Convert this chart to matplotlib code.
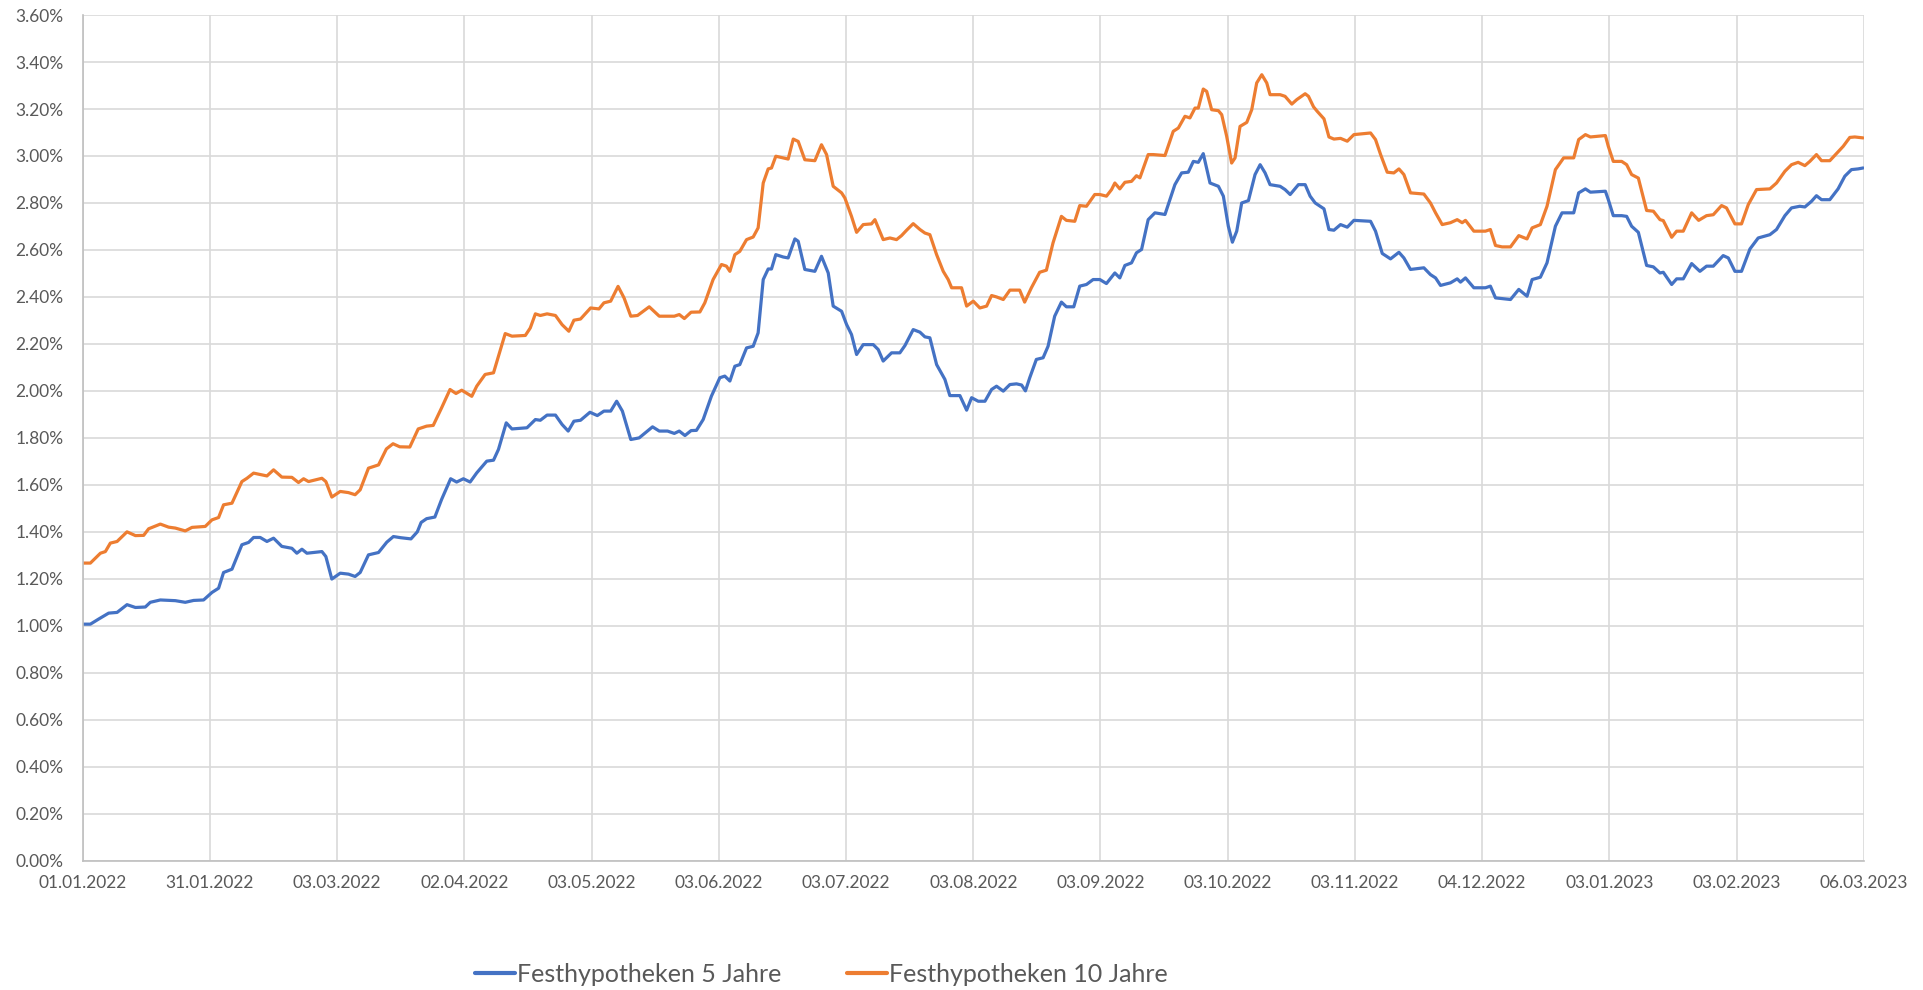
import matplotlib
matplotlib.use("Agg")
import matplotlib.pyplot as plt
from matplotlib.ticker import FixedLocator, FuncFormatter

# ---------------- data ----------------
tick_labels = ["01.01.2022", "31.01.2022", "03.03.2022", "02.04.2022", "03.05.2022",
               "03.06.2022", "03.07.2022", "03.08.2022", "03.09.2022", "03.10.2022",
               "03.11.2022", "04.12.2022", "03.01.2023", "03.02.2023", "06.03.2023"]

# position along the date axis, measured in label intervals (0 = 01.01.2022, 14 = 06.03.2023)
pos_5y = [0, 0.060, 0.126, 0.204, 0.270, 0.348, 0.414, 0.492, 0.531, 0.610, 0.728, 0.806, 0.872, 0.950,
          1.016, 1.068, 1.107, 1.173, 1.251, 1.304, 1.343, 1.395, 1.448, 1.5, 1.565, 1.644, 1.683, 1.723,
          1.762, 1.880, 1.911, 1.958, 2.024, 2.089, 2.141, 2.181, 2.246, 2.325, 2.390, 2.442, 2.50, 2.58,
          2.63, 2.66, 2.703, 2.768, 2.821, 2.892, 2.939, 2.992, 3.045, 3.097, 3.176, 3.229, 3.268, 3.329,
          3.374, 3.492, 3.558, 3.597, 3.650, 3.716, 3.768, 3.816, 3.861, 3.913, 3.987, 4.045, 4.097, 4.150,
          4.197, 4.242, 4.308, 4.374, 4.479, 4.532, 4.597, 4.650, 4.689, 4.734, 4.782, 4.824, 4.877, 4.942,
          5.008, 5.047, 5.087, 5.126, 5.165, 5.218, 5.270, 5.309, 5.349, 5.388, 5.414, 5.448, 5.506, 5.545,
          5.598, 5.624, 5.676, 5.755, 5.807, 5.860, 5.899, 5.965, 6.004, 6.043, 6.083, 6.135, 6.214, 6.253,
          6.292, 6.358, 6.423, 6.463, 6.528, 6.581, 6.620, 6.659, 6.712, 6.777, 6.816, 6.895, 6.948, 6.987,
          7.039, 7.092, 7.144, 7.183, 7.236, 7.288, 7.34, 7.38, 7.41, 7.444, 7.496, 7.549, 7.588, 7.640,
          7.693, 7.732, 7.790, 7.837, 7.890, 7.942, 7.995, 8.047, 8.113, 8.152, 8.192, 8.244, 8.283, 8.323,
          8.375, 8.428, 8.507, 8.585, 8.638, 8.690, 8.730, 8.769, 8.808, 8.861, 8.927, 8.966, 9.005, 9.037,
          9.071, 9.110, 9.163, 9.215, 9.255, 9.294, 9.333, 9.412, 9.451, 9.491, 9.556, 9.609, 9.648, 9.688,
          9.757, 9.796, 9.835, 9.887, 9.940, 9.992, 10.123, 10.162, 10.215, 10.280, 10.346, 10.385, 10.437,
          10.542, 10.594, 10.634, 10.673, 10.751, 10.804, 10.830, 10.869, 10.935, 11.026, 11.065, 11.105,
          11.223, 11.288, 11.353, 11.393, 11.458, 11.510, 11.576, 11.628, 11.720, 11.759, 11.812, 11.851,
          11.969, 11.992, 12.031, 12.097, 12.136, 12.175, 12.228, 12.293, 12.346, 12.398, 12.424, 12.490,
          12.529, 12.581, 12.647, 12.712, 12.764, 12.817, 12.895, 12.935, 12.987, 13.039, 13.105, 13.170,
          13.262, 13.314, 13.380, 13.432, 13.497, 13.537, 13.589, 13.628, 13.668, 13.733, 13.798, 13.851,
          13.903, 13.955, 13.995]
rate_5y = [1.007, 1.007, 1.029, 1.054, 1.057, 1.09, 1.078, 1.08, 1.10, 1.11, 1.107, 1.10, 1.108, 1.11,
           1.142, 1.16, 1.227, 1.241, 1.345, 1.355, 1.376, 1.376, 1.359, 1.373, 1.338, 1.33, 1.309, 1.326,
           1.309, 1.316, 1.295, 1.199, 1.224, 1.22, 1.21, 1.227, 1.302, 1.312, 1.356, 1.38, 1.375, 1.37,
           1.40, 1.44, 1.456, 1.463, 1.538, 1.626, 1.612, 1.626, 1.612, 1.651, 1.701, 1.705, 1.751, 1.864,
           1.838, 1.843, 1.878, 1.875, 1.897, 1.897, 1.857, 1.829, 1.871, 1.875, 1.909, 1.895, 1.914, 1.914,
           1.956, 1.914, 1.793, 1.80, 1.847, 1.829, 1.829, 1.819, 1.829, 1.81, 1.831, 1.832, 1.878, 1.978,
           2.056, 2.063, 2.042, 2.105, 2.112, 2.183, 2.19, 2.247, 2.474, 2.519, 2.519, 2.58, 2.57, 2.566,
           2.647, 2.637, 2.517, 2.509, 2.573, 2.502, 2.361, 2.339, 2.283, 2.24, 2.155, 2.197, 2.197, 2.176,
           2.127, 2.162, 2.162, 2.193, 2.261, 2.25, 2.23, 2.226, 2.112, 2.049, 1.98, 1.98, 1.918, 1.971,
           1.956, 1.956, 2.006, 2.02, 1.999, 2.027, 2.03, 2.025, 2.0, 2.056, 2.134, 2.141, 2.19, 2.318,
           2.378, 2.358, 2.358, 2.446, 2.453, 2.474, 2.474, 2.457, 2.502, 2.481, 2.534, 2.545, 2.588, 2.602,
           2.729, 2.758, 2.751, 2.878, 2.928, 2.931, 2.977, 2.973, 3.01, 2.885, 2.871, 2.829, 2.701, 2.633,
           2.68, 2.80, 2.81, 2.921, 2.963, 2.928, 2.878, 2.871, 2.857, 2.836, 2.878, 2.878, 2.829, 2.80,
           2.775, 2.687, 2.684, 2.708, 2.697, 2.726, 2.722, 2.68, 2.585, 2.562, 2.59, 2.566, 2.517,
           2.524, 2.495, 2.481, 2.449, 2.46, 2.477, 2.463, 2.481, 2.439, 2.439, 2.446, 2.396,
           2.389, 2.432, 2.403, 2.474, 2.484, 2.545, 2.701, 2.758, 2.758, 2.843, 2.86, 2.846,
           2.85, 2.814, 2.746, 2.746, 2.743, 2.701, 2.675, 2.534, 2.528, 2.502, 2.505, 2.453,
           2.477, 2.477, 2.542, 2.509, 2.531, 2.531, 2.576, 2.566, 2.509, 2.509, 2.604, 2.651,
           2.665, 2.687, 2.746, 2.779, 2.786, 2.783, 2.807, 2.831, 2.814, 2.814, 2.86, 2.914,
           2.942, 2.945, 2.949]

pos_10y = [0, 0.060, 0.139, 0.178, 0.217, 0.270, 0.348, 0.414, 0.479, 0.518, 0.610, 0.675, 0.728, 0.806,
           0.859, 0.963, 1.016, 1.068, 1.107, 1.173, 1.251, 1.291, 1.343, 1.448, 1.5, 1.565, 1.644, 1.696,
           1.736, 1.775, 1.880, 1.911, 1.958, 2.024, 2.089, 2.141, 2.181, 2.246, 2.325, 2.387, 2.439, 2.492,
           2.571, 2.637, 2.703, 2.755, 2.821, 2.887, 2.934, 2.979, 3.058, 3.097, 3.163, 3.229, 3.268, 3.321,
           3.374, 3.479, 3.518, 3.558, 3.597, 3.650, 3.716, 3.768, 3.821, 3.861, 3.913, 3.992, 4.058, 4.097,
           4.150, 4.208, 4.255, 4.308, 4.361, 4.453, 4.532, 4.650, 4.689, 4.729, 4.782, 4.851, 4.890, 4.955,
           5.021, 5.060, 5.087, 5.126, 5.165, 5.218, 5.270, 5.309, 5.349, 5.388, 5.414, 5.448, 5.506, 5.545,
           5.585, 5.624, 5.676, 5.755, 5.807, 5.847, 5.899, 5.965, 5.991, 6.043, 6.083, 6.135, 6.200, 6.227,
           6.292, 6.345, 6.397, 6.436, 6.476, 6.528, 6.581, 6.620, 6.659, 6.712, 6.764, 6.803, 6.830, 6.908,
           6.948, 7.0, 7.052, 7.105, 7.144, 7.183, 7.236, 7.288, 7.365, 7.404, 7.457, 7.522, 7.575, 7.627,
           7.693, 7.732, 7.798, 7.837, 7.890, 7.955, 7.995, 8.047, 8.087, 8.113, 8.152, 8.192, 8.244, 8.283,
           8.310, 8.375, 8.415, 8.507, 8.572, 8.612, 8.664, 8.703, 8.743, 8.769, 8.808, 8.835, 8.874, 8.927,
           8.953, 8.992, 9.031, 9.058, 9.097, 9.150, 9.189, 9.228, 9.268, 9.307, 9.333, 9.412, 9.451, 9.504,
           9.543, 9.609, 9.635, 9.675, 9.704, 9.757, 9.796, 9.835, 9.887, 9.940, 9.992, 10.123, 10.162,
           10.202, 10.254, 10.306, 10.346, 10.385, 10.437, 10.542, 10.594, 10.634, 10.686, 10.751, 10.804,
           10.843, 10.869, 10.935, 11.026, 11.065, 11.105, 11.157, 11.223, 11.288, 11.353, 11.393, 11.458,
           11.510, 11.576, 11.641, 11.720, 11.759, 11.812, 11.851, 11.969, 11.992, 12.031, 12.097, 12.136,
           12.175, 12.228, 12.293, 12.346, 12.398, 12.424, 12.490, 12.529, 12.581, 12.647, 12.702, 12.764,
           12.817, 12.882, 12.921, 12.987, 13.039, 13.092, 13.157, 13.262, 13.314, 13.380, 13.432, 13.484,
           13.537, 13.576, 13.628, 13.668, 13.733, 13.785, 13.838, 13.890, 13.929, 13.995]
rate_10y = [1.267, 1.267, 1.309, 1.316, 1.352, 1.359, 1.40, 1.384, 1.385, 1.413, 1.433, 1.42, 1.416, 1.404,
            1.419, 1.423, 1.451, 1.461, 1.515, 1.522, 1.614, 1.628, 1.65, 1.638, 1.664, 1.633, 1.632, 1.61,
            1.626, 1.614, 1.628, 1.614, 1.548, 1.572, 1.567, 1.558, 1.579, 1.671, 1.685, 1.753, 1.775, 1.762,
            1.761, 1.838, 1.85, 1.853, 1.928, 2.006, 1.989, 2.003, 1.977, 2.02, 2.07, 2.077, 2.148, 2.244,
            2.233, 2.236, 2.268, 2.328, 2.321, 2.328, 2.321, 2.282, 2.254, 2.301, 2.306, 2.353, 2.349, 2.375,
            2.382, 2.445, 2.396, 2.318, 2.321, 2.358, 2.318, 2.318, 2.325, 2.308, 2.335, 2.336, 2.375, 2.474,
            2.538, 2.531, 2.509, 2.58, 2.594, 2.644, 2.655, 2.694, 2.885, 2.945, 2.949, 2.999, 2.992, 2.987,
            3.072, 3.062, 2.984, 2.98, 3.048, 3.006, 2.871, 2.843, 2.821, 2.743, 2.675, 2.708, 2.711, 2.729,
            2.644, 2.651, 2.644, 2.661, 2.684, 2.712, 2.687, 2.672, 2.665, 2.58, 2.509, 2.474, 2.439, 2.439,
            2.361, 2.382, 2.353, 2.361, 2.406, 2.40, 2.389, 2.429, 2.429, 2.378, 2.439, 2.505, 2.514, 2.63,
            2.743, 2.726, 2.722, 2.789, 2.786, 2.836, 2.836, 2.829, 2.857, 2.885, 2.86, 2.888, 2.892, 2.916,
            2.907, 3.006, 3.006, 3.002, 3.105, 3.119, 3.169, 3.162, 3.204, 3.204, 3.285, 3.275, 3.197, 3.193,
            3.176, 3.084, 2.97, 2.992, 3.126, 3.143, 3.197, 3.311, 3.346, 3.311, 3.261, 3.261, 3.254, 3.221,
            3.24, 3.265, 3.254, 3.209, 3.19, 3.158, 3.081, 3.072, 3.075, 3.063, 3.091, 3.098, 3.07,
            3.006, 2.931, 2.928, 2.945, 2.921, 2.843, 2.838, 2.80, 2.758, 2.708, 2.716, 2.729,
            2.716, 2.726, 2.68, 2.68, 2.687, 2.619, 2.613, 2.613, 2.661, 2.647, 2.694, 2.708,
            2.786, 2.942, 2.992, 2.992, 3.07, 3.091, 3.081, 3.087, 3.041, 2.977, 2.977, 2.963,
            2.921, 2.906, 2.768, 2.765, 2.729, 2.725, 2.654, 2.68, 2.68, 2.758, 2.726, 2.746,
            2.75, 2.789, 2.779, 2.711, 2.711, 2.793, 2.857, 2.86, 2.885, 2.935, 2.963, 2.973,
            2.959, 2.977, 3.006, 2.98, 2.98, 3.01, 3.041, 3.079, 3.081, 3.077]

series_names = ["Festhypotheken 5 Jahre", "Festhypotheken 10 Jahre"]
y_ticks = [i * 0.2 for i in range(19)]

# ---------------- plot ----------------
BLUE = "#4472C4"
ORANGE = "#ED7D31"
GRID = "#D9D9D9"
TXT = "#595959"
FONT = "Lato"

fig = plt.figure(figsize=(19.24, 9.90), dpi=100)
ax = fig.add_axes([0.043, 0.1306, 0.9257, 0.8542])

ax.plot(pos_5y, rate_5y, color=BLUE, lw=2.3, label=series_names[0],
        solid_joinstyle="round", solid_capstyle="round")
ax.plot(pos_10y, rate_10y, color=ORANGE, lw=2.3, label=series_names[1],
        solid_joinstyle="round", solid_capstyle="round")

ax.set_xlim(0, len(tick_labels) - 1)
ax.set_ylim(0, 3.6)
ax.xaxis.set_major_locator(FixedLocator(range(len(tick_labels))))
ax.set_xticklabels(tick_labels)
ax.yaxis.set_major_locator(FixedLocator(y_ticks))
ax.yaxis.set_major_formatter(FuncFormatter(lambda v, p: f"{v:.2f}%"))

ax.grid(True, color=GRID, lw=1.2)
ax.set_axisbelow(True)
for s in ["top", "right"]:
    ax.spines[s].set_visible(False)
for s in ["left", "bottom"]:
    ax.spines[s].set_color("#BFBFBF")
    ax.spines[s].set_linewidth(1.2)

ax.tick_params(axis="both", length=0, labelcolor=TXT, labelsize=12.5)
ax.tick_params(axis="y", pad=14)
ax.tick_params(axis="x", pad=10)
for lbl in ax.get_xticklabels() + ax.get_yticklabels():
    lbl.set_fontfamily(FONT)

leg = fig.legend(loc="center", bbox_to_anchor=(0.427, 0.016), ncol=2, frameon=False,
                 prop={"family": FONT, "size": 18}, handlelength=1.6, handletextpad=0.1,
                 columnspacing=2.6, borderaxespad=0, borderpad=0)
for t in leg.get_texts():
    t.set_color(TXT)
for h in leg.legend_handles:
    h.set_linewidth(3)

fig.savefig("out.png", dpi=100, facecolor="white")
